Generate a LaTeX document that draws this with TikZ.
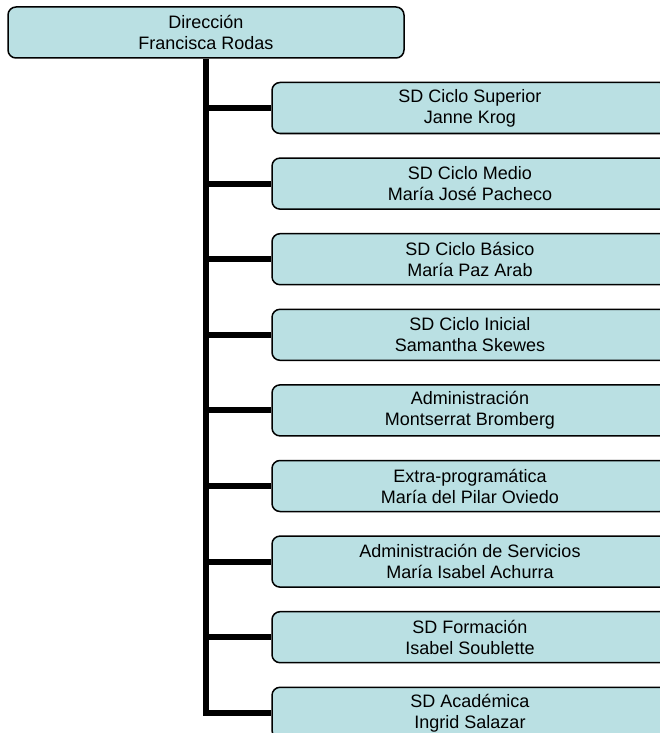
\documentclass[tikz,border=0pt]{standalone}
\usepackage{fontspec}
\setmainfont{Liberation Sans}
\definecolor{boxfill}{RGB}{186,224,227}
\tikzset{
  unit/.style={draw, fill=boxfill, rounded corners=8pt, line width=1.5pt,
    minimum width=396pt, minimum height=51pt, inner sep=0pt, align=center,
    font=\fontsize{18}{21}\selectfont},
  conn/.style={line width=6pt}
}
\def\orgbox(#1,#2,#3,#4){
  \node[unit] (#1) at (470,#2) {#3\\#4};
  \draw [conn] (dir.south |- #1.west) -- (#1.west);
}

\begin{document}
\begin{tikzpicture}[x=1pt, y=-1pt]
\useasboundingbox (0,0) rectangle (660,733);
\node[unit] (dir) at (206,32.5) {Dirección\\Francisca Rodas};
\orgbox(sup,108,SD Ciclo Superior,Janne Krog)
\orgbox(med,183.6,SD Ciclo Medio,María José Pacheco)
\orgbox(bas,259.2,SD Ciclo Básico,María Paz Arab)
\orgbox(ini,334.8,SD Ciclo Inicial,Samantha Skewes)
\orgbox(adm,410.4,Administración,Montserrat Bromberg)
\orgbox(ext,486,Extra-programática,María del Pilar Oviedo)
\orgbox(ser,561.6,Administración de Servicios,María Isabel Achurra)
\orgbox(for,637.2,SD Formación,Isabel Soublette)
\orgbox(aca,712.8,SD Académica,Ingrid Salazar)
\draw [conn] (dir.south) |- (aca.west);
\end{tikzpicture}
\end{document}
